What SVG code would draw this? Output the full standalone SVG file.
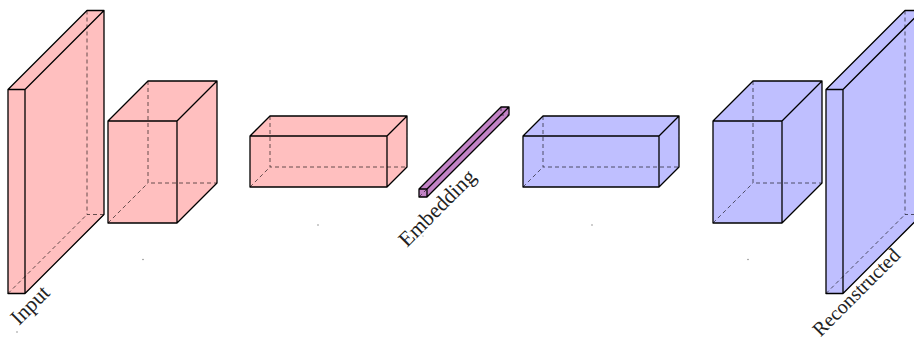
<svg xmlns="http://www.w3.org/2000/svg" width="914" height="343" viewBox="0 0 914 343">
<style>
.pink{fill:#ffbfbf;stroke:none}
.blue{fill:#bfbfff;stroke:none}
.purple{fill:#c283c6;stroke:none}
.hid{fill:none;stroke:#000;stroke-opacity:0.6;stroke-width:1;stroke-dasharray:4 3}
.edge{fill:none;stroke:#000;stroke-width:1.3;stroke-linejoin:round}
.lbl{font-family:"Liberation Serif","DejaVu Serif",serif;font-size:21.5px;fill:#222;text-anchor:middle}
.dot{fill:#777}
</style>
<rect width="914" height="343" fill="#fff"/>
<g id="input">
<polygon class="pink" points="8,89.5 87,10.5 104,10.5 104,214.5 25,293.5 8,293.5"/>
<path class="hid" d="M87,10.5 V214.5 H104 M8,293.5 L87,214.5"/>
<path class="edge" d="M8,89.5 H25 V293.5 H8 Z M8,89.5 L87,10.5 H104 L25,89.5 M104,10.5 V214.5 L25,293.5"/>
<text class="lbl" transform="translate(35,310) rotate(-45)">Input</text>
<circle class="dot" cx="17" cy="332" r="0.7"/>
</g>
<g id="conv1">
<polygon class="pink" points="108,121 148,81 217,81 217,183 177,223 108,223"/>
<path class="hid" d="M148,81 V183 H217 M108,223 L148,183"/>
<path class="edge" d="M108,121 H177 V223 H108 Z M108,121 L148,81 H217 L177,121 M217,81 V183 L177,223"/>
<circle class="dot" cx="143" cy="259.5" r="0.7"/>
</g>
<g id="conv2">
<polygon class="pink" points="250,136 270,116 407,116 407,167 387,187 250,187"/>
<path class="hid" d="M270,116 V167 H407 M250,187 L270,167"/>
<path class="edge" d="M250,136 H387 V187 H250 Z M250,136 L270,116 H407 L387,136 M407,116 V167 L387,187"/>
<circle class="dot" cx="318" cy="225" r="0.7"/>
</g>
<g id="embedding">
<polygon class="purple" points="419,189 501,107 509,107 509,115 427,197 419,197"/>
<path class="hid" d="M501,107 V115 H509 M419,197 L501,115"/>
<path class="edge" d="M419,189 H427 V197 H419 Z M419,189 L501,107 H509 L427,189 M509,107 V115 L427,197"/>
<text class="lbl" transform="translate(442,213) rotate(-45)">Embedding</text>
<circle class="dot" cx="423" cy="236" r="0.6"/>
</g>
<g id="deconv1">
<polygon class="blue" points="523,136 543,116 679,116 679,167 659,187 523,187"/>
<path class="hid" d="M543,116 V167 H679 M523,187 L543,167"/>
<path class="edge" d="M523,136 H659 V187 H523 Z M523,136 L543,116 H679 L659,136 M679,116 V167 L659,187"/>
<circle class="dot" cx="592" cy="225" r="0.7"/>
</g>
<g id="deconv2">
<polygon class="blue" points="713,121 753,81 822,81 822,183 782,223 713,223"/>
<path class="hid" d="M753,81 V183 H822 M713,223 L753,183"/>
<path class="edge" d="M713,121 H782 V223 H713 Z M713,121 L753,81 H822 L782,121 M822,81 V183 L782,223"/>
<circle class="dot" cx="748" cy="259.5" r="0.7"/>
</g>
<g id="reconstructed">
<polygon class="blue" points="826,89.5 905,10.5 922,10.5 922,214.5 843,293.5 826,293.5"/>
<path class="hid" d="M905,10.5 V214.5 H922 M826,293.5 L905,214.5"/>
<path class="edge" d="M826,89.5 H843 V293.5 H826 Z M826,89.5 L905,10.5 H922 L843,89.5 M922,10.5 V214.5 L843,293.5"/>
<text class="lbl" style="font-size:20px" transform="translate(861,297) rotate(-45)">Reconstructed</text>
</g>
<g id="connectors"></g>
</svg>
